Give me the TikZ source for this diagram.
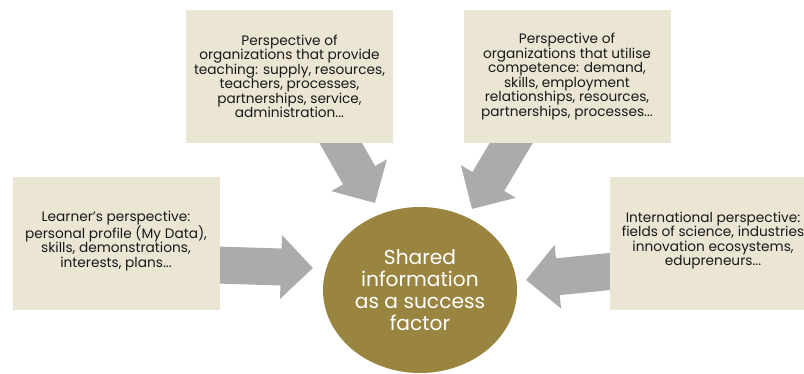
\documentclass[tikz,border=0pt]{standalone}
\usepackage{fontspec}
\setmainfont{Poppins}
\usetikzlibrary{arrows.meta,shapes.geometric}
\definecolor{boxbeige}{RGB}{235,229,212}
\definecolor{arrowgray}{RGB}{171,171,171}
\definecolor{olivegold}{RGB}{153,133,64}
\definecolor{textdark}{RGB}{25,25,25}
\pgfdeclarelayer{background}
\pgfsetlayers{background,main}

\begin{document}
\begin{tikzpicture}[x=1pt, y=1pt,
  persp/.style={fill=boxbeige, text=textdark, minimum width=207pt, minimum height=133pt, align=center, inner sep=0pt, font=\fontsize{13.7}{14.5}\selectfont},
  bigarrow/.style={draw=arrowgray, line width=37pt, -{Triangle[length=32pt, width=62pt, fill=arrowgray]}}]
  \useasboundingbox (0,0) rectangle (804,373);

  % Perspectives
  \node[persp] (teach) at (289.5,296.5) {Perspective of\\organizations that provide\\teaching: supply, resources,\\teachers, processes,\\partnerships, service,\\administration...};
  \node[persp] (employ) at (567,296.5) {Perspective of\\organizations that utilise\\competence: demand,\\skills, employment\\relationships, resources,\\partnerships, processes...};
  \node[persp] (learner) at (116,129.5) {Learner’s perspective:\\personal profile (My Data),\\skills, demonstrations,\\interests, plans...\\[-5.5pt]\mbox{}};
  \node[persp] (intl) at (713,129.5) {International perspective:\\fields of science, industries\\innovation ecosystems,\\edupreneurs...\\[-5.5pt]\mbox{}};

  % Centre
  \node[ellipse, fill=olivegold, text=white, minimum width=194pt, minimum height=166pt, inner sep=0pt, align=center, font=\fontsize{20.2}{22}\selectfont] (shared) at (420,83) {Shared\\information\\as a success\\factor};

  % Arrows
  \begin{pgfonlayer}{background}
    \draw[bigarrow] ([shift={(41,18)}]teach.south) -- ([shift={(-45,87)}]shared.center);
    \draw[bigarrow] ([shift={(-44,20)}]employ.south) -- ([shift={(52,81)}]shared.center);
    \draw[bigarrow] ([shift={(-19,-21)}]learner.east) -- ([shift={(-107,22)}]shared.center);
    \draw[bigarrow] ([shift={(20,-26)}]intl.west) -- ([shift={(106,10)}]shared.center);
  \end{pgfonlayer}
\end{tikzpicture}
\end{document}
